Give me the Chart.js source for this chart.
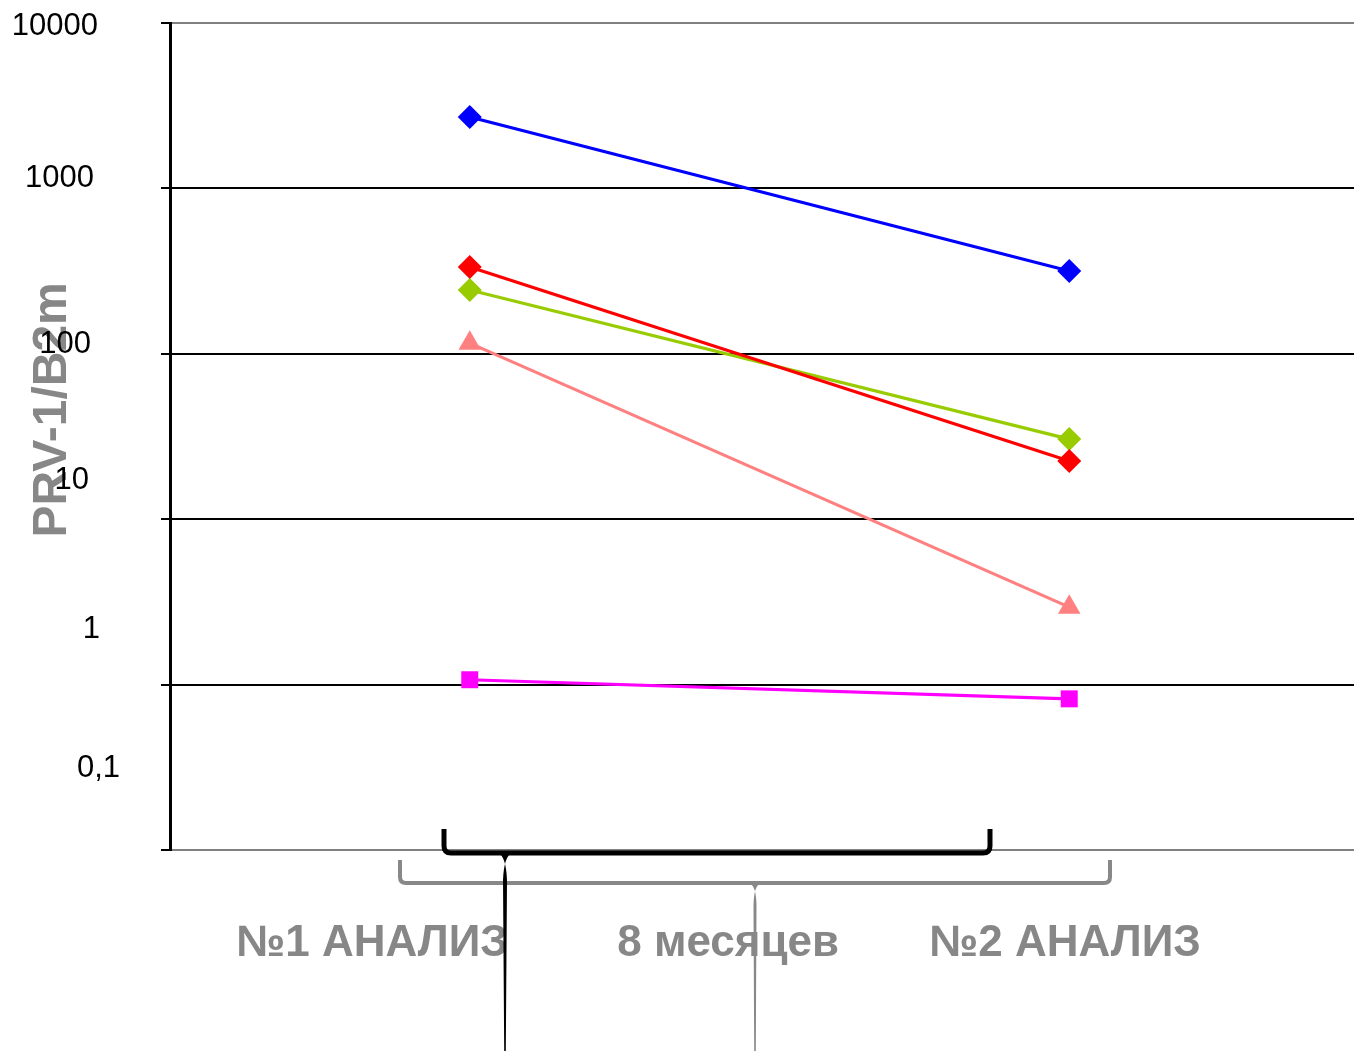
<!DOCTYPE html>
<html>
<head>
<meta charset="utf-8">
<script src="https://cdn.jsdelivr.net/npm/chart.js@4/dist/chart.umd.min.js"></script>
<style>
  html, body { margin: 0; padding: 0; overflow: hidden; background: #fff; }
  #chart { display: block; }
</style>
</head>
<body>
<canvas id="chart" width="1354" height="1051"></canvas>
<script>
// categories along the bottom
const xLabels = ["№1 АНАЛИЗ", "8 месяцев", "№2 АНАЛИЗ"];
// the two analyses sit on x = 1 and x = 3
const analysisX = [1, 3];

// PRV-1/B2m values, one series per patient
const bluePts = [2700, 317];
const redPts = [335, 22.5];
const greenPts = [243, 30.5];
const pinkPts = [116, 2.94];
const magentaPts = [1.07, 0.82];

// y axis ticks
const yTickValues = [0.1, 1, 10, 100, 1000, 10000];
const yTickLabels = ["0,1", "1", "10", "100", "1000", "10000"];

const grey = "#878787";

function toPoints(vals) {
    return vals.map((v, i) => ({ x: analysisX[i], y: v }));
}

function series(vals, color, style, radius) {
    return {
        data: toPoints(vals),
        borderColor: color,
        backgroundColor: color,
        borderWidth: 3.2,
        pointStyle: style,
        pointRadius: radius,
        pointHoverRadius: radius,
        pointBorderWidth: 0,
        tension: 0
    };
}

// y tick labels are drawn a little off their grid lines, as in the original
const yLabelShift = { 0.1: [-82, 120], 1: [-55, 100], 10: [-39, 89], 100: [-9, 91], 1000: [-10, 94], 10000: [3, 98] };

const extras = {
    id: "extras",
    afterDraw(chart) {
        const c = chart.ctx;
        const y = chart.scales.y;
        c.save();
        c.font = "31px 'Liberation Sans', Arial, sans-serif";
        c.fillStyle = "#000";
        c.textAlign = "right";
        c.textBaseline = "middle";
        yTickValues.forEach((v, i) => {
            const s = yLabelShift[v];
            c.fillText(yTickLabels[i], s[1], y.getPixelForValue(v) + s[0]);
        });

        // grey bracket under the axis
        c.strokeStyle = "#888";
        c.fillStyle = "#888";
        c.lineWidth = 4;
        c.beginPath();
        c.moveTo(400, 860);
        c.lineTo(400, 877);
        c.quadraticCurveTo(400, 883, 406, 883);
        c.lineTo(1104, 883);
        c.quadraticCurveTo(1110, 883, 1110, 877);
        c.lineTo(1110, 860);
        c.stroke();
        c.beginPath();
        c.moveTo(749, 883);
        c.quadraticCurveTo(756, 885, 756.5, 905);
        c.lineTo(755.8, 1051);
        c.lineTo(754.2, 1051);
        c.lineTo(753.5, 905);
        c.quadraticCurveTo(754, 885, 761, 883);
        c.closePath();
        c.fill();

        // black brace
        c.strokeStyle = "#000";
        c.fillStyle = "#000";
        c.lineWidth = 5;
        c.beginPath();
        c.moveTo(444, 829);
        c.lineTo(444, 846);
        c.quadraticCurveTo(444, 853, 451, 853);
        c.lineTo(983, 853);
        c.quadraticCurveTo(990, 853, 990, 846);
        c.lineTo(990, 829);
        c.stroke();
        c.beginPath();
        c.moveTo(498, 853);
        c.quadraticCurveTo(506, 856, 507, 880);
        c.lineTo(505.8, 1051);
        c.lineTo(504.2, 1051);
        c.lineTo(503, 880);
        c.quadraticCurveTo(504, 856, 512, 853);
        c.closePath();
        c.fill();
        c.restore();
    }
};

const ctx = document.getElementById("chart").getContext("2d");
new Chart(ctx, {
    type: "line",
    data: {
        datasets: [
            series(bluePts, "#0000ff", "rectRot", 12),
            series(redPts, "#ff0000", "rectRot", 12),
            series(greenPts, "#99cc00", "rectRot", 12),
            series(pinkPts, "#ff8080", "triangle", 13),
            series(magentaPts, "#ff00ff", "rect", 12)
        ]
    },
    options: {
        responsive: false,
        animation: false,
        layout: { autoPadding: false, padding: { top: 23, right: 0, left: 0, bottom: 0 } },
        plugins: { legend: { display: false }, tooltip: { enabled: false } },
        scales: {
            x: {
                type: "linear",
                min: 0,
                max: 3.95,
                afterBuildTicks: (s) => {
                    s.ticks = [0.674, 1.862, 2.986].map(v => ({ value: v }));
                },
                afterFit: (s) => {
                    s.height = 201;
                    s.paddingLeft = 0;
                    s.paddingRight = 0;
                },
                grid: { display: false, drawTicks: false },
                border: { display: true, color: "#808080", width: 2 },
                ticks: {
                    autoSkip: false,
                    maxRotation: 0,
                    padding: 67,
                    color: grey,
                    font: { family: "'Liberation Sans', Arial, sans-serif", size: 44, weight: "bold" },
                    callback: (v, i) => xLabels[i]
                }
            },
            y: {
                type: "logarithmic",
                min: 0.1,
                max: 10000,
                afterBuildTicks: (s) => {
                    s.ticks = yTickValues.map(v => ({ value: v }));
                },
                afterFit: (s) => { s.width = 170; },
                grid: {
                    color: (c) => (c.tick && (c.tick.value === 10000 || c.tick.value === 0.1)) ? "#808080" : "#000",
                    lineWidth: 2,
                    tickColor: "#000",
                    tickLength: 9
                },
                border: { display: true, color: "#000", width: 3 },
                ticks: { display: false },
                title: {
                    display: true,
                    text: "    PRV-1/B2m",
                    color: grey,
                    padding: { top: 24, bottom: 0 },
                    font: { family: "'Liberation Sans', Arial, sans-serif", size: 48, weight: "bold" }
                }
            }
        }
    },
    plugins: [extras]
});
</script>
</body>
</html>
